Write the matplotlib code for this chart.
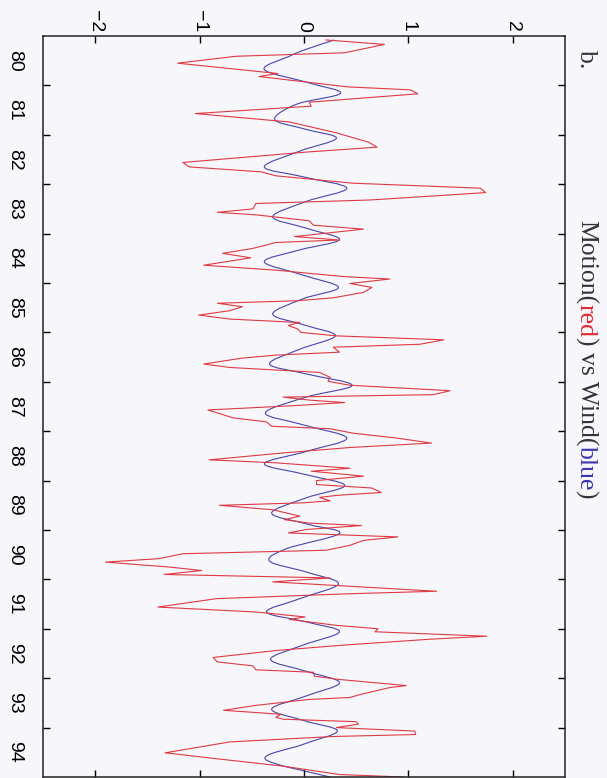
import matplotlib.pyplot as plt
from matplotlib.path import Path
from matplotlib.patches import PathPatch

# Motion (red) and Wind (blue); time in years (19xx)
motion_t = [80.08, 80.17, 80.34, 80.41, 80.55, 80.76, 80.82, 81.03, 81.09, 81.17,
            81.34, 81.42, 81.57, 81.74, 81.96, 82.15, 82.25, 82.35,
            82.56, 82.65, 82.75, 82.83, 82.98, 83.08, 83.17, 83.32, 83.39, 83.50,
            83.57, 83.62, 83.74, 83.83, 83.91, 84.06, 84.13, 84.18, 84.30, 84.40,
            84.49, 84.64, 84.74, 84.87, 84.92, 85.01,
            85.09, 85.19, 85.30, 85.36, 85.41, 85.48, 85.56, 85.65, 85.73, 85.80,
            85.86, 85.93, 86.00, 86.07, 86.15, 86.24, 86.30, 86.40, 86.46, 86.52,
            86.64, 86.71, 86.81, 86.91, 86.99, 87.07, 87.18, 87.26, 87.31, 87.37,
            87.42, 87.48, 87.57,
            87.73, 87.81, 87.90, 87.95, 88.04, 88.14, 88.24, 88.33, 88.44, 88.58,
            88.64, 88.75, 88.81, 88.91, 89.00, 89.08, 89.15, 89.24, 89.30, 89.34,
            89.41, 89.45, 89.50, 89.59, 89.72, 89.79, 89.86, 89.91, 89.99, 90.06,
            90.14, 90.21, 90.31, 90.41, 90.48, 90.58, 90.65, 90.75, 90.82, 90.90,
            90.97, 91.05, 91.12, 91.24, 91.29, 91.39, 91.56, 91.66, 91.76, 91.81,
            91.93, 92.00, 92.06, 92.15, 92.21, 92.33, 92.44, 92.58,
            92.67, 92.75, 92.83, 92.88, 92.96, 93.02, 93.15, 93.19, 93.33, 93.39,
            93.43, 93.55, 93.65, 93.73, 93.79, 93.83, 93.88, 93.93, 94.00, 94.07,
            94.14, 94.18, 94.29, 94.51, 94.63, 94.78, 94.95, 95.00]
motion_v = [0.21, 0.77, 0.39, -0.65, -1.21, -0.25, -0.43, 0.42, 1.02, 1.09,
            0.05, 0.07, -1.04, -0.14, 0.31, 0.62, 0.70, 0.02,
            -1.16, -1.10, -0.41, -0.27, 0.47, 1.69, 1.74, 0.63, -0.46, -0.49,
            -0.83, -0.46, 0.05, 0.09, 0.57, -0.09, 0.34, -0.27, -0.49, -0.78,
            -0.51, -0.96, -0.27, 0.38, 0.82, 0.44,
            0.65, 0.57, 0.28, -0.07, -0.83, -0.59, -0.71, -1.01, -0.71, -0.04,
            -0.15, -0.06, -0.03, 0.31, 1.34, 1.11, 0.28, 0.34, -0.27, -0.59,
            -0.96, -0.71, 0.15, 0.25, 0.23, 0.44, 1.40, 1.24, -0.20, 0.05,
            0.39, -0.07, -0.92,
            -0.68, -0.36, -0.31, 0.25, 0.47, 0.89, 1.22, 0.44, -0.20, -0.91,
            -0.27, 0.44, 0.07, 0.57, 0.12, 0.12, 0.65, 0.74, 0.31, 0.15,
            0.25, -0.01, -0.81, -0.30, -0.04, -0.19, 0.05, 0.55, 0.02, -0.15,
            0.90, 0.57, 0.44, 0.21, -1.16, -1.39, -1.90, -1.29, -0.98, -1.34,
            0.25, -0.30, 0.28, 1.27, 0.44, -0.84, -1.40, -0.46, 0.01, -0.14,
            0.31, 0.71, 0.68, 1.75, 1.21, 0.38, -0.27, -0.87,
            -0.83, -0.49, -0.46, 0.09, 0.10, 0.31, 0.98, 0.82, 0.54, 0.44,
            0.05, -0.46, -0.77, -0.22, -0.27, -0.20, 0.50, 0.52, 0.31, 1.06,
            1.07, 0.28, -0.71, -1.33, -0.84, -0.20, 0.34, 0.95]

wind_t = [80.08, 80.27, 80.41, 80.68, 80.95, 81.16, 81.38, 81.69, 81.89, 82.07,
          82.33, 82.65, 82.85, 83.08, 83.35, 83.66, 83.89, 84.12, 84.33, 84.57,
          84.84, 85.09, 85.32, 85.63, 85.86, 86.07, 86.34, 86.64, 86.84, 87.07,
          87.31, 87.63, 87.87, 88.14, 88.41, 88.66, 88.88, 89.10, 89.35, 89.66,
          89.89, 90.07, 90.38, 90.63, 90.85, 91.09, 91.39, 91.66, 91.86, 92.06,
          92.33, 92.62, 92.86, 93.09, 93.36, 93.63, 93.87, 94.07, 94.34, 94.64,
          95.00]
wind_v = [0.29, 0.02, -0.14, -0.38, 0.05, 0.35, -0.07, -0.28, 0.02, 0.31,
          -0.04, -0.38, -0.01, 0.41, 0.02, -0.30, 0.02, 0.34, -0.04, -0.38,
          -0.01, 0.33, -0.01, -0.30, 0.02, 0.30, -0.04, -0.33, 0.02, 0.46,
          0.02, -0.37, -0.01, 0.41, 0.02, -0.38, 0.02, 0.39, 0.02, -0.31,
          0.05, 0.34, -0.17, -0.33, 0.02, 0.33, -0.04, -0.36, 0.02, 0.34,
          -0.01, -0.32, 0.02, 0.34, 0.02, -0.31, 0.02, 0.32, -0.01, -0.37,
          0.25]

years = list(range(80, 95))
value_ticks = [-2, -1, 0, 1, 2]

bg = '#f7f6fa'
fig = plt.figure(figsize=(6.07, 7.78), dpi=100, facecolor=bg)
ax = fig.add_axes([43 / 607, 1 / 778, 522 / 607, 741 / 778])
ax.set_facecolor(bg)

# the page is turned: values run left-right, time runs top-down
ax.plot(motion_v, motion_t, color='#de3a42', lw=0.8)

# wind is a smooth curve in the original, so draw it as a bezier path through the points
pts = list(zip(wind_v, wind_t))
verts = [pts[0]]
codes = [Path.MOVETO]
n = len(pts)
for i in range(n - 1):
    p0 = pts[max(i - 1, 0)]
    p1 = pts[i]
    p2 = pts[i + 1]
    p3 = pts[min(i + 2, n - 1)]
    c1 = (p1[0] + (p2[0] - p0[0]) / 6, p1[1] + (p2[1] - p0[1]) / 6)
    c2 = (p2[0] - (p3[0] - p1[0]) / 6, p2[1] - (p3[1] - p1[1]) / 6)
    verts += [c1, c2, p2]
    codes += [Path.CURVE4] * 3
ax.add_patch(PathPatch(Path(verts, codes), fill=False, edgecolor='#4646ad', lw=0.8))

ax.set_xlim(-2.5, 2.5)
ax.set_ylim(95, 80)

ax.set_xticks(value_ticks)
ax.set_xticklabels([str(v).replace('-', '\u2212') for v in value_ticks],
                   family='Liberation Sans')
ax.tick_params(axis='x', direction='in', top=True, bottom=True, labeltop=True,
               labelbottom=False, length=5, width=1, pad=3, labelsize=14,
               labelrotation=-90)

ax.set_yticks(range(81, 95))
ax.set_yticklabels([])
ax.set_yticks([y + 0.5 for y in years], minor=True)
ax.set_yticklabels([str(y) for y in years], minor=True, family='Liberation Sans')
ax.tick_params(axis='y', which='major', direction='in', left=True, right=True,
               length=5, width=1)
ax.tick_params(axis='y', which='minor', length=0, pad=14, labelsize=14,
               labelrotation=-90)
for lab in ax.get_yticklabels(minor=True):
    lab.set_va('center')

for s in ax.spines.values():
    s.set_linewidth(1.1)
    s.set_color('#222222')

# rotated title, in coloured pieces
fig.canvas.draw()
r = fig.canvas.get_renderer()
xb = 580 / 607
fig.text(xb, 1 - 50 / 778, 'b.', rotation=-90, rotation_mode='anchor',
         ha='left', va='baseline', family='Liberation Serif', size=18.5,
         color='#333333')
y = 1 - 220 / 778
for piece, c in [('Motion(', '#333333'), ('red', '#e02a30'),
                 (') vs Wind(', '#333333'), ('blue', '#3a36b0'), (')', '#333333')]:
    t = fig.text(xb, y, piece, rotation=-90, rotation_mode='anchor',
                 ha='left', va='baseline', family='Liberation Serif', size=18.5,
                 color=c)
    h = t.get_window_extent(renderer=r).height
    y -= h / fig.bbox.height

fig.savefig('out.png', dpi=100, facecolor=bg)
